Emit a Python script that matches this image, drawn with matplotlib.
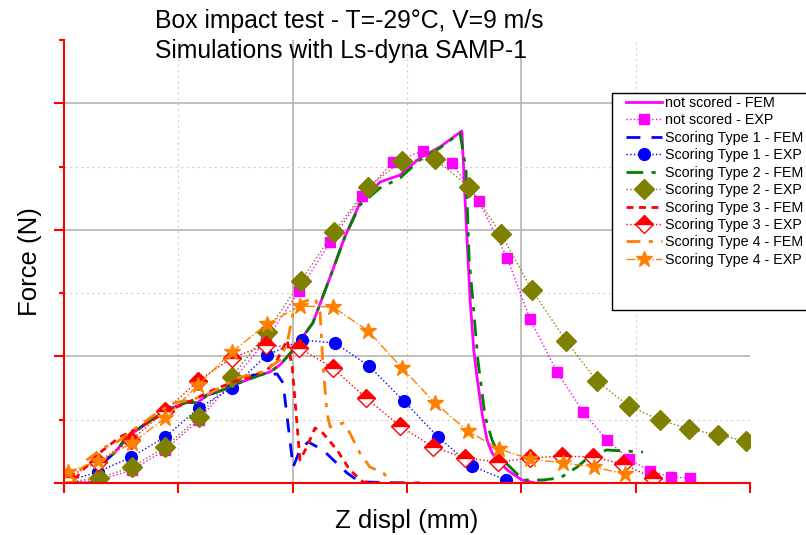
import matplotlib
matplotlib.use("Agg")
import matplotlib.pyplot as plt
import matplotlib.ticker as plticker
from matplotlib.patches import Rectangle

plt.rcParams['font.family'] = ['Liberation Sans', 'DejaVu Sans']

# ---- simulation curves (FEM) ----
ns_fem_x = [0, 6.1, 8.5, 11.2, 13.8, 18.1, 22.5, 26.9, 29.1, 31.3, 34.8, 37.0, 42.9, 45.0, 47.2, 50.1,
            54.4, 58.2, 61.4, 64.7, 69.1, 73.5, 77.8, 82.2, 87.0, 87.7, 88.8, 89.6, 90.3, 91.4, 92.5,
            93.6, 95.3, 96.9, 100.1, 103.0, 105.2]
ns_fem_y = [0, 0, 158, 245, 363, 474, 577, 640, 632, 695, 735, 774, 853, 877, 932, 1051,
            1264, 1628, 1943, 2212, 2378, 2433, 2568, 2655, 2781, 2236, 1446, 1051, 837, 553, 340,
            237, 166, 103, 24, 0, 0]

t1_fem_x = [0, 6.1, 8.5, 11.2, 13.8, 18.1, 22.5, 26.9, 29.1, 31.3, 34.8, 37.0, 41.3, 46.6, 47.9,
            50.1, 51.6, 53.4, 56.6, 61.9, 64.7, 77.8]
t1_fem_y = [0, 0, 158, 245, 363, 474, 577, 640, 632, 695, 735, 774, 853, 861, 790,
            126, 261, 324, 261, 79, 8, 0]

t2_fem_x = [0, 6.1, 8.5, 11.2, 13.8, 18.1, 22.5, 26.9, 29.1, 31.3, 34.8, 37.0, 42.9, 45.0, 47.2, 50.1,
            54.4, 58.2, 61.4, 64.7, 69.1, 73.5, 77.8, 82.2, 86.6, 87.9, 88.6, 89.4, 90.5, 92.1, 93.6,
            95.3, 98.2, 100.4, 104.7, 108.5, 112.2, 115.0, 118.7, 122.2, 126.6]
t2_fem_y = [0, 0, 158, 245, 363, 474, 577, 640, 632, 695, 735, 774, 853, 877, 932, 1051,
            1264, 1628, 1943, 2196, 2331, 2410, 2552, 2647, 2765, 2473, 1762, 1446, 972, 521, 340,
            205, 103, 24, 24, 40, 126, 213, 261, 253, 245]

t3_fem_x = [0, 1.7, 3.5, 7.2, 12.2, 16.6, 23.2, 28.2, 32.6, 37.0, 40.7, 44.4, 46.6, 48.8, 49.9,
            51.6, 53.1, 54.9, 56.6, 59.7, 62.5, 65.4, 69.1]
t3_fem_y = [0, 0, 79, 221, 363, 442, 577, 656, 735, 798, 837, 893, 972, 1130, 916,
            182, 284, 435, 395, 261, 103, 8, 0]

t4_fem_x = [0, 2.0, 5.0, 8.5, 11.6, 16.0, 20.3, 23.8, 27.6, 31.3, 37.8, 43.5, 47.2, 48.8, 50.1,
            51.6, 54.9, 56.0, 56.6, 57.5, 58.2, 61.0, 62.5, 64.7, 66.9, 69.8, 71.9, 77.8]
t4_fem_y = [0, 8, 182, 277, 324, 442, 553, 632, 656, 695, 830, 877, 972, 1106, 1343,
            1422, 1462, 1343, 948, 553, 442, 474, 395, 237, 126, 79, 0, 0]

# ---- measurements (EXP) ----
ns_exp_x = [0.4, 7.7, 14.9, 22.1, 29.5, 36.7, 44.2, 51.4, 58.2, 65.2, 71.9, 78.5, 84.8, 90.7,
            96.9, 101.9, 107.8, 113.5, 118.7, 123.5, 128.1, 132.7, 136.9]
ns_exp_y = [0, 24, 103, 261, 498, 798, 1130, 1517, 1904, 2267, 2536, 2623, 2528, 2228,
            1778, 1296, 877, 561, 340, 190, 95, 47, 40]

t1_exp_x = [0.7, 7.4, 14.7, 22.1, 29.5, 36.7, 44.4, 52.0, 59.3, 66.7, 74.3, 81.8, 89.2, 96.6]
t1_exp_y = [16, 87, 205, 363, 593, 751, 1011, 1130, 1106, 924, 648, 363, 134, 24]

t2_exp_x = [0.4, 7.7, 14.9, 22.1, 29.5, 36.7, 44.4, 51.8, 59.0, 66.5, 73.9, 81.1, 88.6, 95.6,
            102.3, 109.8, 116.5, 123.5, 130.3, 136.7, 143.0, 149.1]
t2_exp_y = [8, 40, 126, 284, 521, 837, 1193, 1596, 1983, 2339, 2544, 2560, 2339, 1967,
            1525, 1122, 806, 608, 498, 427, 379, 332]

t3_exp_x = [0.7, 7.4, 14.7, 22.1, 29.3, 36.7, 44.2, 51.4, 58.8, 66.0, 73.5, 80.7, 87.7, 94.9,
            101.9, 108.9, 115.7, 122.2, 128.8]
t3_exp_y = [47, 166, 340, 569, 806, 988, 1090, 1067, 909, 672, 450, 284, 198, 166,
            198, 213, 205, 150, 40]

t4_exp_x = [0.9, 7.4, 14.9, 22.1, 29.3, 36.7, 44.4, 51.6, 58.8, 66.5, 73.9, 81.1, 88.3, 95.1,
            101.9, 109.1, 115.9, 122.7]
t4_exp_y = [87, 174, 316, 514, 774, 1035, 1256, 1398, 1391, 1201, 909, 632, 411, 269,
            190, 158, 126, 71]

MAGENTA = '#ff00ff'
BLUE = '#0000ff'
GREEN = '#008000'
OLIVE = '#808000'
RED = '#ff0000'
ORANGE = '#ff8000'

fig = plt.figure(figsize=(8.06, 5.35), dpi=100)
ax = fig.add_axes([64/806, 52/535, 686/806, 443/535])

ax.plot(ns_fem_x, ns_fem_y, color=MAGENTA, lw=2, label='not scored - FEM')
ax.plot(ns_exp_x, ns_exp_y, color=MAGENTA, lw=1, ls=':', marker='s', ms=7,
        mec=MAGENTA, mfc=MAGENTA, label='not scored - EXP')
ax.plot(t1_fem_x, t1_fem_y, color=BLUE, lw=2, ls=(0, (5, 4)), label='Scoring Type 1 - FEM')
ax.plot(t1_exp_x, t1_exp_y, color=BLUE, lw=1, ls=':', marker='o', ms=8.5,
        mec=BLUE, mfc=BLUE, label='Scoring Type 1 - EXP')
ax.plot(t2_fem_x, t2_fem_y, color=GREEN, lw=2, ls=(0, (6, 3, 1.5, 3)), label='Scoring Type 2 - FEM')
ax.plot(t2_exp_x, t2_exp_y, color=OLIVE, lw=1, ls=':', marker='D', ms=10,
        mec=OLIVE, mfc=OLIVE, label='Scoring Type 2 - EXP')
ax.plot(t3_fem_x, t3_fem_y, color=RED, lw=2, ls=(0, (2.5, 2)), label='Scoring Type 3 - FEM')
ax.plot(t3_exp_x, t3_exp_y, color=RED, lw=1, ls=':', marker='D', ms=9, mec=RED, mfc=RED,
        fillstyle='top', markerfacecoloralt='white', label='Scoring Type 3 - EXP')
ax.plot(t4_fem_x, t4_fem_y, color=ORANGE, lw=2, ls=(0, (5, 3, 1.5, 3)), label='Scoring Type 4 - FEM')
ax.plot(t4_exp_x, t4_exp_y, color=ORANGE, lw=1, ls='-.', marker='*', ms=12,
        mec=ORANGE, mfc=ORANGE, label='Scoring Type 4 - EXP')

ax.set_xlim(0, 150)
ax.set_ylim(0, 3500)
ax.xaxis.set_major_locator(plticker.MultipleLocator(50))
ax.xaxis.set_minor_locator(plticker.MultipleLocator(25))
ax.yaxis.set_major_locator(plticker.MultipleLocator(1000))
ax.yaxis.set_minor_locator(plticker.MultipleLocator(500))
ax.set_xticklabels([])
ax.set_yticklabels([])

# grid only inside the frame, none along the outer edges
for v in (50, 100):
    ax.axvline(v, color='#b4b4b4', lw=1.2, zorder=0)
for v in (25, 75, 125):
    ax.axvline(v, color='#d0d0d0', lw=0.8, ls=(0, (2, 3)), zorder=0)
for h in (1000, 2000, 3000):
    ax.axhline(h, color='#b4b4b4', lw=1.2, zorder=0)
for h in (500, 1500, 2500):
    ax.axhline(h, color='#d0d0d0', lw=0.8, ls=(0, (2, 3)), zorder=0)

for side in ('top', 'right'):
    ax.spines[side].set_visible(False)
for side in ('left', 'bottom'):
    ax.spines[side].set_color(RED)
    ax.spines[side].set_linewidth(1.5)
ax.tick_params(which='both', colors=RED, width=1.5, direction='out')
ax.tick_params(axis='y', which='major', length=7)
ax.tick_params(axis='y', which='minor', length=3.5)
ax.tick_params(axis='x', which='both', length=7)

ax.set_xlabel('Z displ (mm)', fontsize=18.5, labelpad=8)
ax.set_ylabel('Force (N)', fontsize=18.5, labelpad=5)

fig.text(155/806, 1 - 21/535, 'Box impact test - T=-29°C, V=9 m/s', fontsize=17.8,
         ha='left', va='center')
fig.text(155/806, 1 - 51/535, 'Simulations with Ls-dyna SAMP-1', fontsize=17.8,
         ha='left', va='center')

# legend frame runs off the right edge of the figure
fig.patches.append(Rectangle((612/806, 1 - 310/535), 210/806, 217/535, transform=fig.transFigure,
                             fill=True, facecolor='white', edgecolor='black', lw=1, zorder=5))
leg = fig.legend(loc='upper left', bbox_to_anchor=(626/806, 1 - 96/535), frameon=False,
                 fontsize=10.3, handlelength=2.5, handletextpad=0.2, labelspacing=0.24,
                 borderpad=0, borderaxespad=0)
leg.set_zorder(6)

fig.savefig('out.png', dpi=100)
